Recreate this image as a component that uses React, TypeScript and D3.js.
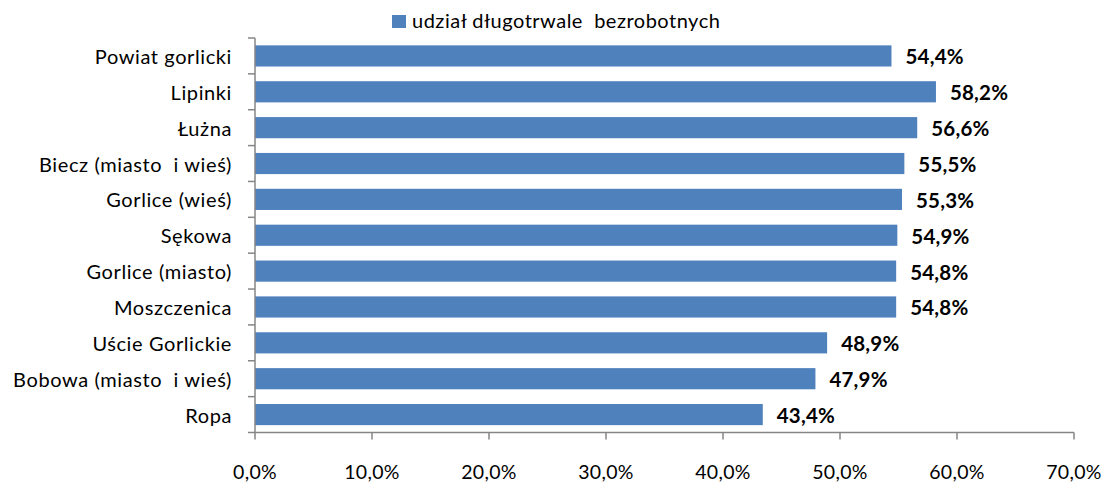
import React from "react";
import * as d3 from "d3";

const categories = [
  "Powiat gorlicki",
  "Lipinki",
  "Łużna",
  "Biecz (miasto  i wieś)",
  "Gorlice (wieś)",
  "Sękowa",
  "Gorlice (miasto)",
  "Moszczenica",
  "Uście Gorlickie",
  "Bobowa (miasto  i wieś)",
  "Ropa",
];
const values = [54.4, 58.2, 56.6, 55.5, 55.3, 54.9, 54.8, 54.8, 48.9, 47.9, 43.4];
const ticks = [0, 10, 20, 30, 40, 50, 60, 70];
const seriesName = "udział długotrwale  bezrobotnych";

const fmt = (v: number) => v.toFixed(1).replace(".", ",") + "%";
// keep the doubled spaces of the original labels
const keepSpaces = (s: string) => s.replace(/ {2}/g, "\u00a0 ");

const App = () => {
  const width = 1107;
  const height = 483;
  const left = 255;
  const right = 1074;
  const top = 38;
  const bottom = 432.5;
  const font = "Lato, 'Open Sans', sans-serif";

  const x = d3.scaleLinear().domain([0, 70]).range([left, right]);
  const y = d3
    .scaleBand<string>()
    .domain(categories)
    .range([top, bottom])
    .paddingInner(0.41)
    .paddingOuter(0.205);
  const step = y.step();
  const axisColor = "#868686";

  return (
    <svg
      width={width}
      height={height}
      style={{ position: "absolute", left: 0, top: 0, fontFamily: font }}
    >
      {/* legend */}
      <rect x={392} y={15} width={14} height={13} fill="#4F81BD" />
      <text x={412} y={28} fontSize={20} letterSpacing={0.5} fill="#000">
        {keepSpaces(seriesName)}
      </text>

      {/* bars */}
      {categories.map((c, i) => (
        <g key={c}>
          <rect
            x={x(0)}
            y={y(c)}
            width={x(values[i]) - x(0)}
            height={y.bandwidth()}
            fill="#4F81BD"
          />
          <text
            x={x(values[i]) + 14}
            y={(y(c) as number) + y.bandwidth() / 2 + 8.5}
            fontSize={20.5}
            fontWeight="bold"
            letterSpacing={0.2}
            fill="#000"
          >
            {fmt(values[i])}
          </text>
          <text
            x={232}
            y={(y(c) as number) + y.bandwidth() / 2 + 8}
            fontSize={20}
            letterSpacing={0.6}
            textAnchor="end"
            fill="#000"
          >
            {keepSpaces(c)}
          </text>
        </g>
      ))}

      {/* y axis */}
      <line x1={left} x2={left} y1={top} y2={bottom} stroke={axisColor} strokeWidth={1.5} />
      {d3.range(categories.length + 1).map((i) => (
        <line
          key={i}
          x1={left - 7}
          x2={left}
          y1={top + i * step}
          y2={top + i * step}
          stroke={axisColor}
          strokeWidth={1.5}
        />
      ))}

      {/* x axis */}
      <line x1={left} x2={right} y1={bottom} y2={bottom} stroke={axisColor} strokeWidth={1.5} />
      {ticks.map((t) => (
        <g key={t}>
          <line x1={x(t)} x2={x(t)} y1={bottom} y2={bottom + 7} stroke={axisColor} strokeWidth={1.5} />
          <text x={x(t)} y={479} fontSize={19.5} letterSpacing={0.3} textAnchor="middle" fill="#000">
            {fmt(t)}
          </text>
        </g>
      ))}
    </svg>
  );
};

export default App;
